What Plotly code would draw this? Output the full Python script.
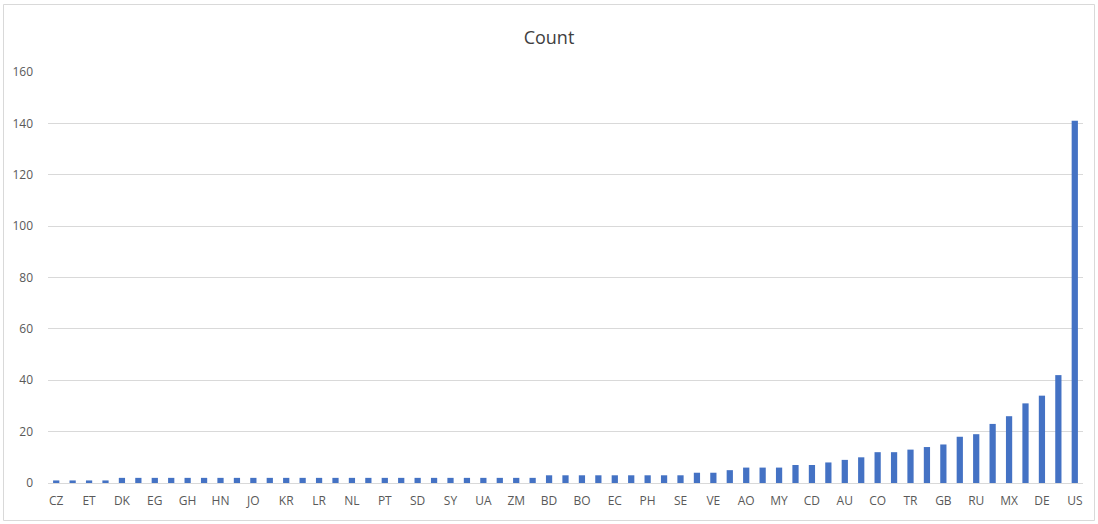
import plotly.graph_objects as go

# Country codes, sorted by count (every other one is labelled on the axis)
countries = [
    "CZ", "DO", "ET", "FI",
    "DK", "EE", "EG", "GE", "GH", "GT", "HN", "IE", "JO", "KE", "KR", "LB", "LR",
    "NG", "NL", "PK", "PT", "SA", "SD", "SN", "SY", "TZ", "UA", "UG", "ZM", "ZW",
    "BD", "BE", "BO", "CL", "EC", "IL", "PH", "PL", "SE",
    "TH", "VE", "ZA", "AO", "AR", "MY", "CA", "CD", "ES", "AU", "IT",
    "CO", "FR", "TR", "BR", "GB", "JP", "RU", "CN", "MX", "PE", "DE", "IN", "US",
]
counts = [
    1, 1, 1, 1,
    2, 2, 2, 2, 2, 2, 2, 2, 2, 2, 2, 2, 2,
    2, 2, 2, 2, 2, 2, 2, 2, 2, 2, 2, 2, 2,
    3, 3, 3, 3, 3, 3, 3, 3, 3,
    4, 4, 5, 6, 6, 6, 7, 7, 8, 9, 10,
    12, 12, 13, 14, 15, 18, 19, 23, 26, 31, 34, 42, 141,
]
y_ticks = [0, 20, 40, 60, 80, 100, 120, 140, 160]

TEXT = "#595959"
GRID = "#d9d9d9"
FONT = "Open Sans, Liberation Sans, sans-serif"

fig = go.Figure(
    go.Bar(
        x=countries,
        y=counts,
        marker=dict(color="#4472C4", line=dict(width=0)),
        hoverinfo="x+y",
    )
)

# plot area spans px 48..1083 horizontally and 72..483 vertically
L, R, T, B = 48, 15, 72, 41
W, H = 1098, 524
pw, ph = W - L - R, H - T - B

def px_x(px):
    return (px - L) / pw

def px_y(py):
    return (H - B - py) / ph

fig.update_layout(
    width=W,
    height=H,
    margin=dict(l=L, r=R, t=T, b=B, pad=0),
    paper_bgcolor="white",
    plot_bgcolor="white",
    bargap=0.62,
    showlegend=False,
    font=dict(family=FONT, color=TEXT, size=12),
    title=dict(
        text="Count",
        x=0.5,
        xanchor="center",
        y=1 - 38 / H,
        yanchor="middle",
        font=dict(family=FONT, size=18, color="#404040"),
    ),
    xaxis=dict(
        type="category",
        tickmode="linear",
        tick0=0,
        dtick=2,
        showgrid=False,
        showline=True,
        linecolor=GRID,
        linewidth=1,
        ticks="",
        tickangle=0,
        tickfont=dict(size=12, color=TEXT),
        ticklabelstandoff=7,
    ),
    yaxis=dict(
        range=[0, 160],
        tickvals=y_ticks,
        showgrid=True,
        gridcolor=GRID,
        gridwidth=1,
        zeroline=False,
        showline=False,
        ticks="",
        tickfont=dict(size=12, color=TEXT),
        ticklabelstandoff=14,
    ),
    shapes=[
        dict(
            type="rect",
            xref="paper",
            yref="paper",
            x0=px_x(3.5),
            x1=px_x(1094.5),
            y0=px_y(520.5),
            y1=px_y(4.5),
            line=dict(color="#d9d9d9", width=1),
            fillcolor="rgba(0,0,0,0)",
            layer="below",
        )
    ],
)

fig.write_html("out.html")
